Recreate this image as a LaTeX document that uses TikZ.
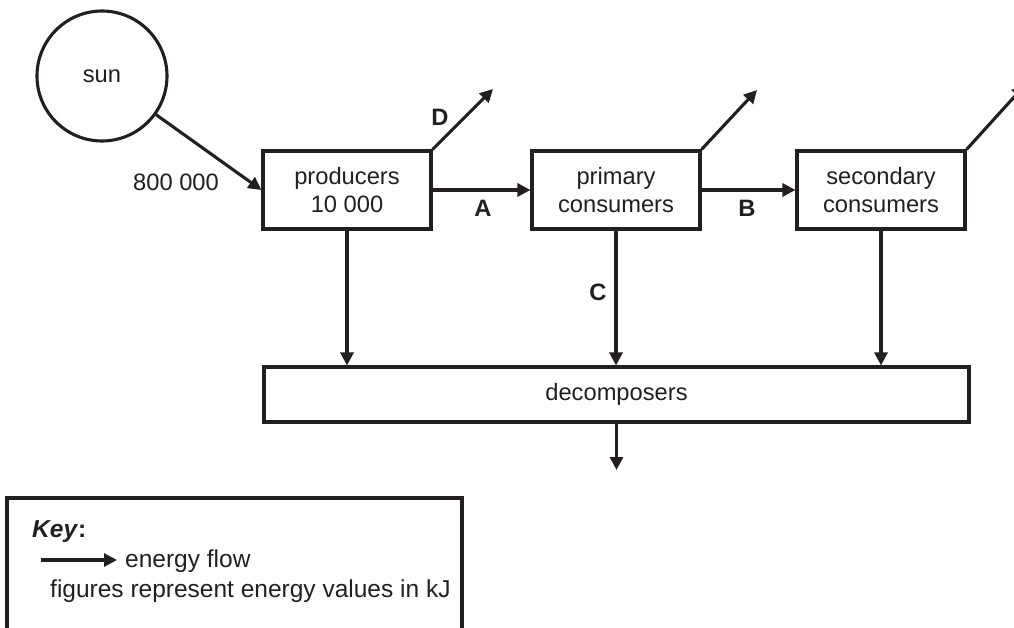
\documentclass[tikz,border=0pt]{standalone}
\usepackage{fontspec}
\setmainfont{Liberation Sans}
\usetikzlibrary{arrows.meta}
\definecolor{ink}{RGB}{35,31,32}

\begin{document}
\begin{tikzpicture}[x=1pt,y=-1pt,color=ink]

\tikzset{box/.style = {shape=rectangle,draw,line width=3.1pt,minimum width=168pt,minimum height=78pt,align=center,font=\fontsize{23.7}{27.5}\selectfont}}
\tikzset{edge/.style = {-{Triangle[length=13pt,width=13pt]},line width=3.1pt}}
\tikzset{lbl/.style = {font=\fontsize{23.7}{27.5}\selectfont,inner sep=0pt}}
\tikzset{keytext/.style = {lbl,font=\fontsize{24.5}{28}\selectfont,anchor=base west}}
\useasboundingbox (0,0) rectangle (1014,628);
%verticies
\node[box, shape=circle, minimum size=130pt] (sun) at (102,76) {sun};
\node[box] (prod) at (347,190) {producers\\10 000};
\node[box] (prim) at (616,190) {primary\\consumers};
\node[box] (sec) at (881,190) {secondary\\consumers};
\node[box, minimum width=705pt, minimum height=55pt] (dec) at (616.5,394.5) {decomposers};
\coordinate (dout) at (493,89);
\coordinate (pout) at (757,90);
\coordinate (sout) at (1025,85);
\coordinate (decout) at (616.5,470);
%labels
\node[lbl] (in) at (176,182) {800 000};
\node[lbl] (A) at (483,208) {\bfseries A};
\node[lbl] (B) at (747,208) {\bfseries B};
\node[lbl] (C) at (598,292) {\bfseries C};
\node[lbl] (D) at (440,117) {\bfseries D};
%edges
\draw [edge] (sun) -- (prod.west);
\draw [edge] (prod.east) -- (prim.west);
\draw [edge] (prim.east) -- (sec.west);
\draw [edge] (prod.north east) -- (dout);
\draw [edge] (prim.north east) -- (pout);
\draw [edge] (sec.north east) -- (sout);
\draw [edge] (prod.south) -- (prod.south |- dec.north);
\draw [edge] (prim.south) -- (prim.south |- dec.north);
\draw [edge] (sec.south) -- (sec.south |- dec.north);
\draw [edge] (dec.south) -- (decout);
%key
\draw [line width=3.1pt] (7,498) rectangle (462,660);
\node[keytext] (key) at (32,537) {\textbf{\textit{Key}:}};
\coordinate (k0) at (41,560);
\node[keytext] (flow) at (125,567) {energy flow};
\draw [edge, shorten >=8pt] (k0) -- (k0 -| flow.west);
\node[keytext] (fig) at (50,597) {figures represent energy values in kJ};

\end{tikzpicture}
\end{document}
